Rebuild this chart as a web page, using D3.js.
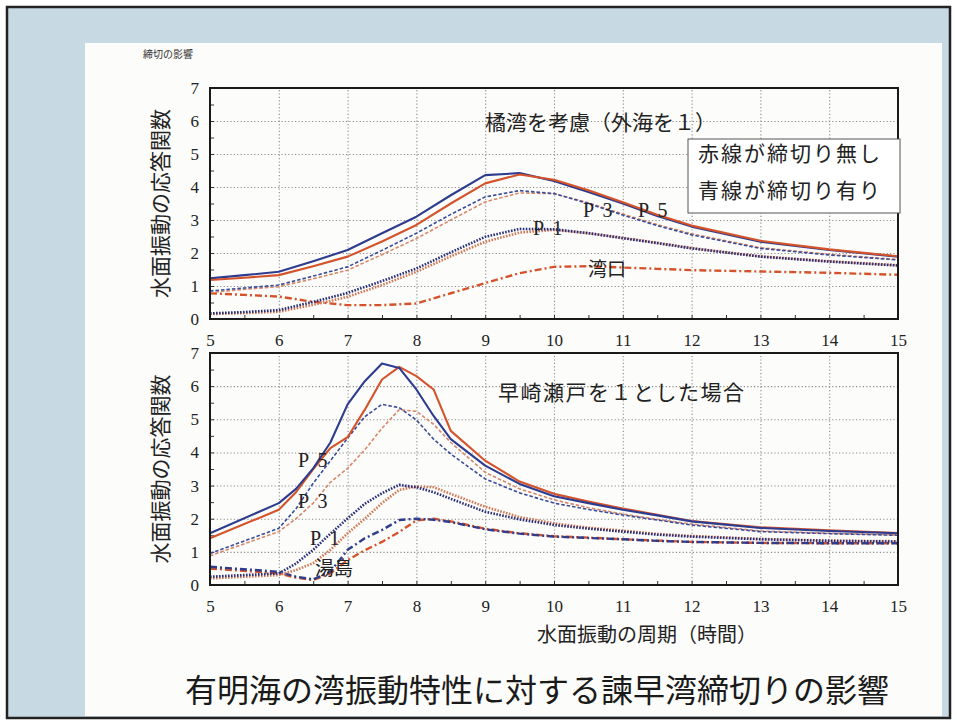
<!DOCTYPE html>
<html>
<head>
<meta charset="utf-8">
<script src="https://cdn.jsdelivr.net/npm/d3@7"></script>
<style>
  body { margin: 0; background: #fff; }
  svg { display: block; }
</style>
</head>
<body>
<div id="chart"></div>
<script>
// ---- data (period in hours -> response amplitude) ----
var xTicks = [5, 6, 7, 8, 9, 10, 11, 12, 13, 14, 15];
var yTicks = [0, 1, 2, 3, 4, 5, 6, 7];

// upper panel: 橘湾を考慮（外海を１）
var topPeriods = [5, 5.5, 6, 6.5, 7, 7.5, 8, 8.5, 9, 9.5, 10, 10.5, 11, 11.5, 12, 13, 14, 15];
var topP5Closed = [1.23, 1.33, 1.43, 1.75, 2.09, 2.6, 3.1, 3.75, 4.36, 4.42, 4.18, 3.85, 3.5, 3.12, 2.8, 2.34, 2.09, 1.89];
var topP5Open   = [1.18, 1.25, 1.33, 1.6, 1.89, 2.35, 2.85, 3.5, 4.11, 4.38, 4.22, 3.9, 3.54, 3.16, 2.83, 2.37, 2.11, 1.9];
var topP3Closed = [0.85, 0.94, 1.03, 1.3, 1.58, 2.08, 2.6, 3.17, 3.7, 3.89, 3.8, 3.5, 3.15, 2.83, 2.55, 2.14, 1.94, 1.79];
var topP3Open   = [0.8, 0.9, 0.98, 1.22, 1.48, 1.95, 2.44, 3.0, 3.55, 3.82, 3.8, 3.52, 3.18, 2.86, 2.58, 2.16, 1.96, 1.8];
var topP1Closed = [0.17, 0.21, 0.27, 0.52, 0.79, 1.15, 1.53, 2.02, 2.49, 2.73, 2.72, 2.6, 2.45, 2.3, 2.14, 1.89, 1.74, 1.62];
var topP1Open   = [0.15, 0.18, 0.22, 0.43, 0.67, 1.03, 1.43, 1.9, 2.34, 2.62, 2.7, 2.6, 2.46, 2.31, 2.15, 1.9, 1.75, 1.63];
var topMouth    = [0.78, 0.73, 0.68, 0.52, 0.42, 0.42, 0.47, 0.78, 1.09, 1.39, 1.58, 1.6, 1.56, 1.52, 1.48, 1.44, 1.4, 1.34];

// lower panel: 早崎瀬戸を１とした場合
var botPeriods = [5, 6, 6.25, 6.5, 6.75, 7, 7.25, 7.5, 7.75, 8, 8.25, 8.5, 9, 9.5, 10, 10.5, 11, 11.5, 12, 13, 14, 15];
var botP5Closed = [1.56, 2.47, 2.9, 3.52, 4.3, 5.45, 6.15, 6.68, 6.55, 5.9, 5.1, 4.4, 3.6, 3.05, 2.68, 2.47, 2.27, 2.1, 1.92, 1.72, 1.63, 1.56];
var botP5Open   = [1.41, 2.27, 2.8, 3.5, 4.13, 4.46, 5.29, 6.2, 6.58, 6.3, 5.9, 4.65, 3.75, 3.12, 2.75, 2.52, 2.31, 2.12, 1.93, 1.74, 1.65, 1.57];
var botP3Closed = [0.95, 1.71, 2.3, 3.07, 3.75, 4.43, 5.08, 5.45, 5.35, 4.98, 4.4, 3.95, 3.2, 2.78, 2.47, 2.28, 2.11, 1.96, 1.81, 1.61, 1.55, 1.5];
var botP3Open   = [0.88, 1.61, 2.0, 2.47, 3.1, 3.52, 4.08, 4.73, 5.29, 5.24, 4.85, 4.3, 3.4, 2.9, 2.57, 2.33, 2.14, 1.98, 1.84, 1.63, 1.56, 1.51];
var botP1Closed = [0.25, 0.35, 0.65, 1.06, 1.55, 2.01, 2.45, 2.77, 3.02, 2.95, 2.8, 2.6, 2.21, 1.98, 1.81, 1.7, 1.61, 1.52, 1.46, 1.38, 1.33, 1.31];
var botP1Open   = [0.2, 0.3, 0.45, 0.66, 1.06, 1.56, 2.0, 2.47, 2.87, 2.97, 2.95, 2.75, 2.36, 2.05, 1.86, 1.73, 1.64, 1.54, 1.48, 1.39, 1.34, 1.32];
var botYushimaClosed = [0.55, 0.4, 0.25, 0.17, 0.4, 1.06, 1.41, 1.66, 1.96, 2.0, 1.97, 1.9, 1.68, 1.55, 1.46, 1.42, 1.38, 1.33, 1.3, 1.27, 1.26, 1.26];
var botYushimaOpen   = [0.5, 0.35, 0.22, 0.15, 0.35, 0.75, 1.05, 1.3, 1.6, 1.95, 2.0, 1.92, 1.7, 1.56, 1.47, 1.43, 1.38, 1.34, 1.3, 1.27, 1.26, 1.26];

// ---- styles ----
var BLUE = "#2d3c8e", RED = "#d4532b";
var styles = {
  solid:   { dash: null,        width: 2.1 },
  dashed:  { dash: "3.5,2",     width: 1.6 },
  dotted:  { dash: "1.6,1.4",   width: 2.6 },
  dashdot: { dash: "7,3,2,3",   width: 2.4 }
};

var topSeries = [
  { values: topMouth,    color: RED,       kind: "dashdot" },
  { values: topP1Open,   color: "#d27a58", kind: "dotted" },
  { values: topP1Closed, color: "#2a2f78", kind: "dotted" },
  { values: topP3Open,   color: "#d8876a", kind: "dashed" },
  { values: topP3Closed, color: "#3a4c9a", kind: "dashed" },
  { values: topP5Closed, color: BLUE,      kind: "solid" },
  { values: topP5Open,   color: RED,       kind: "solid" }
];
var botSeries = [
  { values: botYushimaOpen,   color: RED,       kind: "dashdot" },
  { values: botYushimaClosed, color: BLUE,      kind: "dashdot" },
  { values: botP1Open,        color: "#d27a58", kind: "dotted" },
  { values: botP1Closed,      color: "#2a2f78", kind: "dotted" },
  { values: botP3Open,        color: "#d8876a", kind: "dashed" },
  { values: botP3Closed,      color: "#3a4c9a", kind: "dashed" },
  { values: botP5Open,        color: RED,       kind: "solid" },
  { values: botP5Closed,      color: BLUE,      kind: "solid" }
];

var svgWidth = 957, svgHeight = 722;
var serif = "'Liberation Serif', 'DejaVu Serif', serif";
var gothic = "'Noto Sans CJK JP', 'Noto Sans', sans-serif";

var svg = d3.select("#chart").append("svg")
  .attr("width", svgWidth)
  .attr("height", svgHeight);

// frame: light blue mat with a white sheet on it
svg.append("rect")
  .attr("x", 7).attr("y", 7).attr("width", 943).attr("height", 711)
  .attr("fill", "#c7d9e3").attr("stroke", "#222").attr("stroke-width", 2.5);
svg.append("rect")
  .attr("x", 85).attr("y", 43).attr("width", 857).attr("height", 673)
  .attr("fill", "#fcfcfa");

svg.append("text")
  .attr("x", 143).attr("y", 58)
  .attr("font-family", gothic).attr("font-size", 10).attr("fill", "#333")
  .text("締切の影響");

var x = d3.scaleLinear().domain([5, 15]).range([210, 898]);

function gridStyle(sel) {
  sel.select(".domain").remove();
  sel.selectAll(".tick line")
    .attr("stroke", "#8c8c8c")
    .attr("stroke-width", 1.1)
    .attr("stroke-dasharray", "1.2,2.2");
}

function drawPanel(top, bottom, periods, series) {
  var y = d3.scaleLinear().domain([0, 7]).range([bottom, top]);
  var g = svg.append("g");

  // dotted grid
  g.append("g")
    .attr("transform", `translate(0, ${bottom})`)
    .call(d3.axisBottom(x).tickValues(xTicks.slice(1, -1)).tickSize(-(bottom - top)).tickFormat(""))
    .call(gridStyle);
  g.append("g")
    .attr("transform", "translate(210, 0)")
    .call(d3.axisLeft(y).tickValues(yTicks.slice(1, -1)).tickSize(-(898 - 210)).tickFormat(""))
    .call(gridStyle);

  // small inside ticks at half steps
  g.append("g")
    .attr("transform", `translate(0, ${bottom})`)
    .call(d3.axisBottom(x).tickValues(d3.range(5, 15.01, 0.5)).tickSize(-4).tickFormat(""))
    .call(s => s.select(".domain").remove())
    .selectAll("line").attr("stroke", "#333");
  g.append("g")
    .attr("transform", "translate(210, 0)")
    .call(d3.axisLeft(y).tickValues(d3.range(0, 7.01, 0.5)).tickSize(-4).tickFormat(""))
    .call(s => s.select(".domain").remove())
    .selectAll("line").attr("stroke", "#333");

  // tick labels
  var xa = g.append("g")
    .attr("transform", `translate(0, ${bottom})`)
    .call(d3.axisBottom(x).tickValues(xTicks).tickSize(0).tickPadding(15).tickFormat(d3.format("d")));
  var ya = g.append("g")
    .attr("transform", "translate(210, 0)")
    .call(d3.axisLeft(y).tickValues(yTicks).tickSize(0).tickPadding(11).tickFormat(d3.format("d")));
  [xa, ya].forEach(function (a) {
    a.select(".domain").remove();
    a.selectAll("text").attr("font-family", serif).attr("font-size", 17).attr("fill", "#222");
  });

  // curves
  var line = d3.line()
    .x((d, i) => x(periods[i]))
    .y(d => y(d));
  series.forEach(function (s) {
    g.append("path")
      .datum(s.values)
      .attr("d", line)
      .attr("fill", "none")
      .attr("stroke", s.color)
      .attr("stroke-width", styles[s.kind].width)
      .attr("stroke-dasharray", styles[s.kind].dash)
      .attr("stroke-linejoin", "round");
  });

  // plot border
  g.append("rect")
    .attr("x", 210).attr("y", top).attr("width", 898 - 210).attr("height", bottom - top)
    .attr("fill", "none").attr("stroke", "#1a1a1a").attr("stroke-width", 2);

  // y axis title
  g.append("text")
    .attr("transform", `translate(168, ${(top + bottom) / 2}) rotate(-90)`)
    .attr("text-anchor", "middle")
    .attr("font-family", gothic).attr("font-size", 21).attr("fill", "#222")
    .text("水面振動の応答関数");

  return g;
}

var gTop = drawPanel(88, 319, topPeriods, topSeries);
var gBot = drawPanel(353, 585, botPeriods, botSeries);

// panel titles
gTop.append("text")
  .attr("x", 485).attr("y", 130)
  .attr("font-family", gothic).attr("font-size", 21).attr("fill", "#222")
  .text("橘湾を考慮（外海を１）");
gBot.append("text")
  .attr("x", 498).attr("y", 400)
  .attr("font-family", gothic).attr("font-size", 21).attr("letter-spacing", 1.5).attr("fill", "#222")
  .text("早崎瀬戸を１とした場合");

// legend note
gTop.append("rect")
  .attr("x", 688).attr("y", 139).attr("width", 212).attr("height", 74)
  .attr("fill", "#fff").attr("stroke", "#555").attr("stroke-width", 1);
gTop.append("text")
  .attr("x", 698).attr("y", 161)
  .attr("font-family", gothic).attr("font-size", 21).attr("letter-spacing", 2).attr("fill", "#222")
  .text("赤線が締切り無し");
gTop.append("text")
  .attr("x", 698).attr("y", 198)
  .attr("font-family", gothic).attr("font-size", 21).attr("letter-spacing", 2).attr("fill", "#222")
  .text("青線が締切り有り");

// curve labels
var topLabels = [
  { t: "P 3", x: 583, y: 217 },
  { t: "P 5", x: 638, y: 217 },
  { t: "P 1", x: 533, y: 235 },
  { t: "湾口", x: 588, y: 276 }
];
var botLabels = [
  { t: "P 5", x: 298, y: 467 },
  { t: "P 3", x: 298, y: 508 },
  { t: "P 1", x: 310, y: 545 },
  { t: "湯島", x: 315, y: 575 }
];
topLabels.concat(botLabels).forEach(function (d) {
  svg.append("text")
    .attr("x", d.x).attr("y", d.y)
    .attr("font-family", /P/.test(d.t) ? serif : gothic)
    .attr("font-size", /P/.test(d.t) ? 20 : 19)
    .attr("letter-spacing", /P/.test(d.t) ? 2 : 0)
    .attr("fill", "#222")
    .text(d.t);
});

// x axis title and figure caption
svg.append("text")
  .attr("x", 647).attr("y", 642)
  .attr("text-anchor", "middle")
  .attr("font-family", gothic).attr("font-size", 20).attr("fill", "#222")
  .text("水面振動の周期（時間）");
svg.append("text")
  .attr("x", 537).attr("y", 702)
  .attr("text-anchor", "middle")
  .attr("font-family", gothic).attr("font-size", 32).attr("fill", "#1a1a1a")
  .text("有明海の湾振動特性に対する諫早湾締切りの影響");
</script>
</body>
</html>
